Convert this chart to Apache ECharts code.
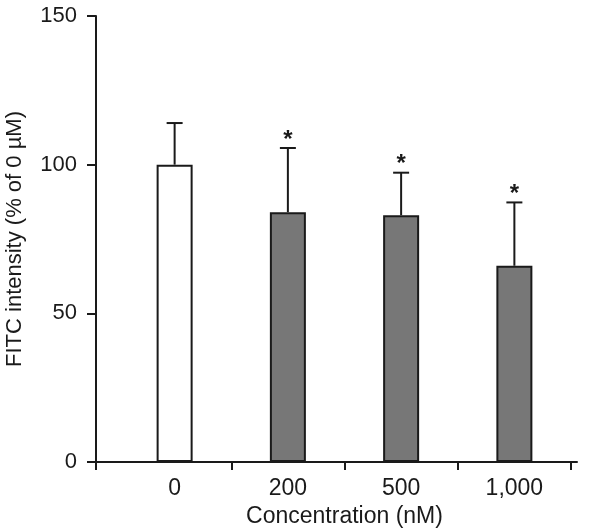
<!DOCTYPE html>
<html>
<head>
<meta charset="utf-8">
<script src="https://cdn.jsdelivr.net/npm/echarts@6/dist/echarts.min.js"></script>
<style>
  html, body { margin: 0; padding: 0; background: #fff; }
  #chart { width: 601px; height: 532px; }
</style>
</head>
<body>
<div id="chart"></div>
<script>
const categories = ['0', '200', '500', '1,000']
const means = [100, 84, 83, 66]
const sdUpper = [14, 21.6, 14.3, 21.3]
const significant = [false, true, true, true]
const yTicks = { min: 0, max: 150, interval: 50 }

const font = 'Liberation Sans, Arial, sans-serif'
const ink = '#1a1a1a'
const grey = '#777777'

const chart = echarts.init(document.getElementById('chart'))

const option = {
	animation: false,
	backgroundColor: '#fff',
	grid: [
		{ left: 118, width: 453, top: 16, height: 446, outerBoundsMode: 'none' },
		// only used to draw the long x axis line starting at the y axis
		{ left: 96, width: 481, top: 16, height: 446, outerBoundsMode: 'none' }
	],
	xAxis: [
		{
			type: 'category',
			gridIndex: 0,
			data: categories,
			name: 'Concentration (nM)',
			nameLocation: 'middle',
			nameGap: 42,
			nameTextStyle: { fontFamily: font, fontSize: 23, color: ink },
			axisLine: { show: true, lineStyle: { color: ink, width: 2 } },
			axisTick: {
				show: true,
				length: 8,
				lineStyle: { color: ink, width: 2 },
				interval: function (index) { return index !== 0 }
			},
			axisLabel: { fontFamily: font, fontSize: 23, color: ink, margin: 15 },
			splitLine: { show: false }
		},
		{
			type: 'value',
			gridIndex: 1,
			min: 0,
			max: 1,
			axisLine: { show: true, lineStyle: { color: ink, width: 2 } },
			axisTick: { show: true, length: 8, customValues: [0], lineStyle: { color: ink, width: 2 } },
			axisLabel: { show: false },
			splitLine: { show: false }
		}
	],
	yAxis: [
		{
			type: 'value',
			gridIndex: 0,
			min: yTicks.min,
			max: yTicks.max,
			interval: yTicks.interval,
			offset: 22,
			name: 'FITC intensity (% of 0 µM)',
			nameLocation: 'middle',
			nameGap: 70,
			nameTextStyle: { fontFamily: font, fontSize: 22, color: ink },
			axisLine: { show: true, lineStyle: { color: ink, width: 2 } },
			axisTick: { show: true, length: 9, lineStyle: { color: ink, width: 2 } },
			axisLabel: { fontFamily: font, fontSize: 22, color: ink, margin: 19 },
			splitLine: { show: false }
		},
		{
			type: 'value',
			gridIndex: 1,
			min: 0,
			max: 1,
			show: false
		}
	],
	series: [
		{
			type: 'bar',
			xAxisIndex: 0,
			yAxisIndex: 0,
			barWidth: 36,
			data: means.map(function (v, i) {
				return {
					value: v,
					itemStyle: { color: i === 0 ? '#ffffff' : grey }
				}
			}),
			itemStyle: { borderColor: ink, borderWidth: 2 },
			z: 2
		},
		{
			type: 'custom',
			xAxisIndex: 0,
			yAxisIndex: 0,
			data: means.map(function (v, i) { return [i, v, v + sdUpper[i], significant[i] ? 1 : 0] }),
			renderItem: function (params, api) {
				const base = api.coord([api.value(0), api.value(1)])
				const top = api.coord([api.value(0), api.value(2)])
				const capHalf = 8
				const children = [
					{
						type: 'line',
						shape: { x1: base[0], y1: base[1], x2: top[0], y2: top[1] },
						style: { stroke: ink, lineWidth: 2 }
					},
					{
						type: 'line',
						shape: { x1: top[0] - capHalf, y1: top[1], x2: top[0] + capHalf, y2: top[1] },
						style: { stroke: ink, lineWidth: 2 }
					}
				]
				if (api.value(3)) {
					// star sits about 14px above the cap
					children.push({
						type: 'text',
						x: top[0],
						y: top[1] - 8,
						style: {
							text: '*',
							fontFamily: font,
							fontSize: 24,
							fontWeight: 'bold',
							fill: ink,
							align: 'center',
							verticalAlign: 'middle'
						}
					})
				}
				return { type: 'group', children: children }
			},
			z: 3
		}
	]
}

chart.setOption(option)
</script>
</body>
</html>
